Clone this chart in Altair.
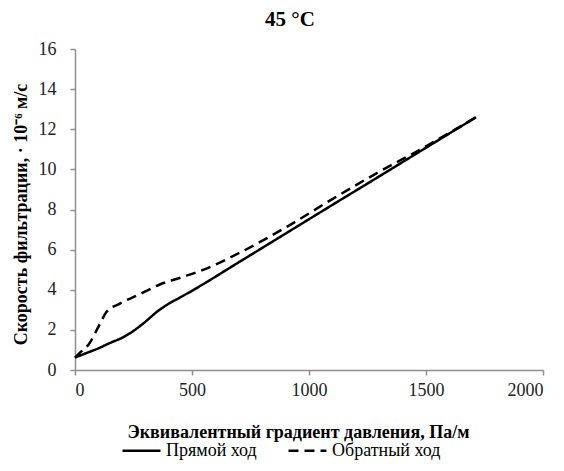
import altair as alt
import pandas as pd

series_names = ["Прямой ход", "Обратный ход"]

forward_x = [0, 50, 100, 150, 200, 250, 300, 350, 400, 450, 506, 700, 900, 1100, 1300, 1500, 1714]
forward_y = [0.62, 0.85, 1.08, 1.35, 1.6, 1.95, 2.4, 2.9, 3.3, 3.62, 3.99, 5.37, 6.8, 8.23, 9.65, 11.08, 12.6]

reverse_x = [0, 20, 60, 100, 135, 190, 280, 360, 450, 550, 700, 900, 1100, 1300, 1500, 1714]
reverse_y = [0.62, 0.85, 1.3, 2.15, 2.9, 3.3, 3.8, 4.25, 4.6, 5.0, 5.82, 7.1, 8.52, 9.88, 11.15, 12.6]

x_ticks = [0, 500, 1000, 1500, 2000]
y_ticks = [0, 2, 4, 6, 8, 10, 12, 14, 16]

df = pd.DataFrame({
    "x": forward_x + reverse_x,
    "y": forward_y + reverse_y,
    "series": [series_names[0]] * len(forward_x) + [series_names[1]] * len(reverse_x),
    "order": list(range(len(forward_x))) + list(range(len(reverse_x))),
})

FONT = "Liberation Serif"
AXIS_GRAY = "#8f8f8f"

chart = alt.Chart(df).mark_line(
    interpolate="monotone", strokeWidth=2.5, color="black"
).encode(
    x=alt.X(
        "x:Q",
        scale=alt.Scale(domain=[0, 2000], nice=False),
        axis=alt.Axis(
            values=x_ticks,
            format="d",
            title="Эквивалентный градиент давления, Па/м",
            titleX=223,
            titleY=62,
            titleAlign="center",
            titleBaseline="middle",
            labelPadding=6,
        ),
    ),
    y=alt.Y(
        "y:Q",
        scale=alt.Scale(domain=[0, 16], nice=False),
        axis=alt.Axis(
            values=y_ticks,
            format="d",
            title="Скорость фильтрации, · 10⁻⁶ м/с",
            titleX=-54,
            titleY=165,
            titleAlign="center",
            titleBaseline="middle",
            labelPadding=14,
        ),
    ),
    strokeDash=alt.StrokeDash(
        "series:N",
        scale=alt.Scale(domain=series_names, range=[[1, 0], [10, 6]]),
        legend=alt.Legend(
            orient="none",
            legendX=46,
            legendY=381,
            direction="horizontal",
            title=None,
            labelFont=FONT,
            labelFontSize=18,
            labelColor="black",
            symbolType="stroke",
            symbolSize=1444,
            symbolStrokeWidth=2.5,
            symbolStrokeColor="black",
            columnPadding=26,
            labelOffset=4,
            padding=0,
        ),
    ),
    order="order:Q",
).properties(
    width=468,
    height=321,
    autosize=alt.AutoSizeParams(type="none"),
    padding={"left": 67, "top": 41, "right": 13, "bottom": 93},
    title=alt.Title(
        "45 °C",
        font=FONT,
        fontSize=21,
        fontWeight="bold",
        color="black",
        anchor="middle",
        frame="group",
        dx=-19,
        offset=10,
    ),
).configure_view(
    stroke=None
).configure_axis(
    grid=False,
    domainColor=AXIS_GRAY,
    domainWidth=1.5,
    tickColor=AXIS_GRAY,
    tickWidth=1.5,
    tickSize=5,
    labelFont=FONT,
    labelFontSize=18,
    labelColor="#222222",
    titleFont=FONT,
    titleFontSize=18,
    titleFontWeight="bold",
    titleColor="black",
)

chart.save("out.html", embed_options={"renderer": "svg", "actions": False})
